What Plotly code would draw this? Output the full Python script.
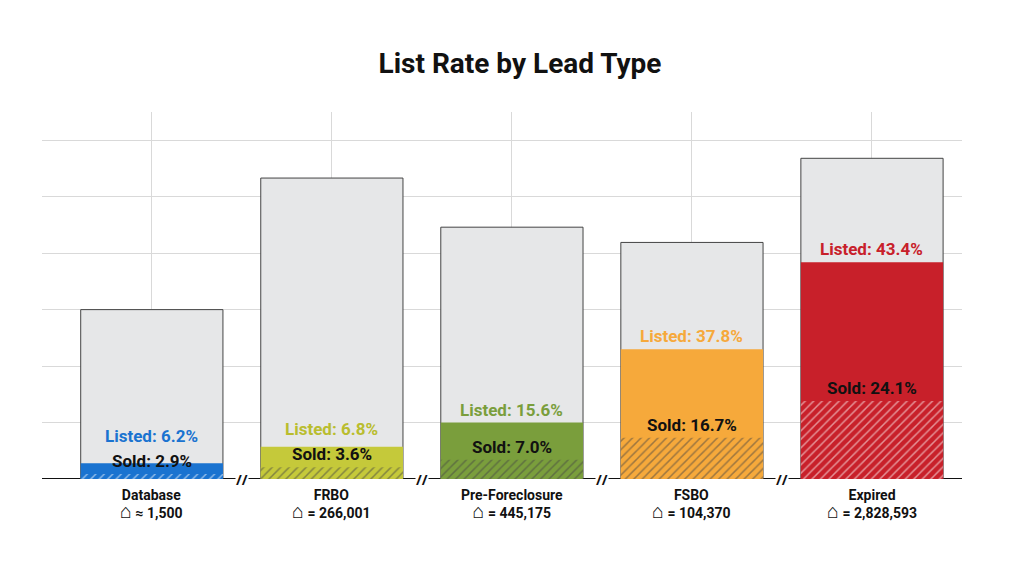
import plotly.graph_objects as go

categories = ["Database", "FRBO", "Pre-Foreclosure", "FSBO", "Expired"]
counts = ["≈ 1,500", "= 266,001", "= 445,175", "= 104,370", "= 2,828,593"]
listed_pct = [6.2, 6.8, 15.6, 37.8, 43.4]
sold_pct = [2.9, 3.6, 7.0, 16.7, 24.1]
# bar heights as drawn (axis units)
total_h = [3.0, 5.33, 4.46, 4.19, 5.68]
listed_h = [0.28, 0.57, 1.0, 2.3, 3.84]
sold_h = [0.09, 0.21, 0.34, 0.73, 1.38]
colors = ["#1a73d0", "#c5c93a", "#7a9e3c", "#f6a93b", "#c8202a"]
label_colors = ["#1a73d0", "#b9bd2e", "#7a9e3c", "#f6a93b", "#c8202a"]

x = list(range(len(categories)))
fig = go.Figure()
fig.add_bar(x=x, y=total_h, width=0.79, marker=dict(color="#e6e7e8", line=dict(color="#444", width=1)), hoverinfo="skip")
fig.add_bar(x=x, y=listed_h, width=0.79, marker=dict(color=colors, line=dict(width=0)), hoverinfo="skip")
fig.add_bar(x=x, y=sold_h, width=0.79, marker=dict(color=colors, line=dict(width=0),
            pattern=dict(shape="/", fgcolor=["#111"] * 5, fillmode="overlay", size=6, solidity=0.25)), hoverinfo="skip")

ann = []
for i in x:
    ly = max(listed_h[i], sold_h[i] + 0.45)
    ann.append(dict(x=i, y=ly, text=f"<b>Listed: {listed_pct[i]}%</b>", showarrow=False, yanchor="bottom",
                    font=dict(color=label_colors[i], size=17, family="Roboto"), yshift=1))
    ann.append(dict(x=i, y=sold_h[i], text=f"<b>Sold: {sold_pct[i]}%</b>", showarrow=False, yanchor="bottom",
                    font=dict(color="#111", size=17, family="Roboto"), yshift=1))
    ann.append(dict(x=i, y=0, text=f"<b>{categories[i]}</b><br><b><span style='font-size:20px'>⌂</span> {counts[i]}</b>",
                    showarrow=False, yanchor="top", yshift=-6, font=dict(color="#111", size=14, family="Roboto")))
for b in [0.5, 1.5, 2.5, 3.5]:
    ann.append(dict(x=b, y=0, text="<b>//</b>", showarrow=False, bgcolor="white", font=dict(size=14, color="#111"), borderpad=0))

fig.update_layout(
    width=1024, height=576, barmode="overlay", showlegend=False,
    plot_bgcolor="white", paper_bgcolor="white",
    margin=dict(l=34, r=70, t=104, b=105),
    title=dict(text="<b>List Rate by Lead Type</b>", x=0.5, y=0.905, xanchor="center", yanchor="middle",
               font=dict(size=28, family="Roboto", color="#111")),
    xaxis=dict(range=[-0.61, 4.5], tickvals=x, showticklabels=False, showgrid=True, gridcolor="#d9d9d9",
               showline=False, zeroline=False, fixedrange=True),
    yaxis=dict(range=[0, 6.5], tickvals=[1, 2, 3, 4, 5, 6], showticklabels=False, showgrid=True,
               gridcolor="#d9d9d9", zeroline=False, showline=False),
    annotations=ann,
    shapes=[dict(type="line", xref="paper", x0=0, x1=1, yref="y", y0=0, y1=0, line=dict(color="#111", width=2), layer="below")],
)
fig.write_html("out.html")
